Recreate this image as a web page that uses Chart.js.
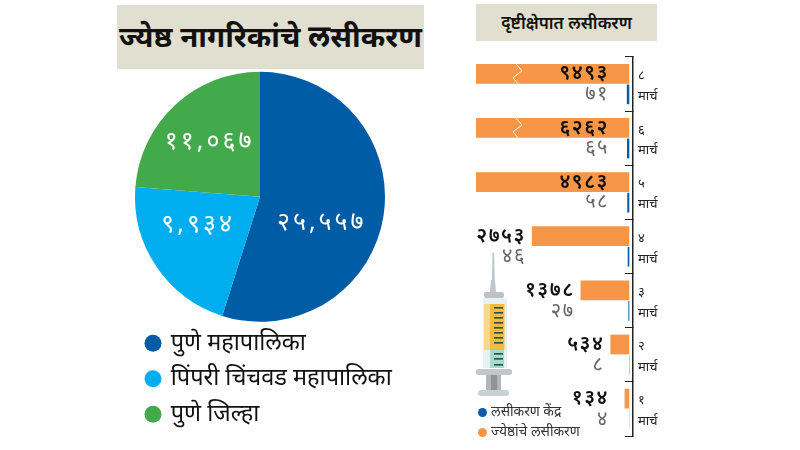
<!DOCTYPE html>
<html lang="mr"><head><meta charset="utf-8">
<script src="https://cdn.jsdelivr.net/npm/chart.js@4"></script>
<style>
html,body{margin:0;padding:0;background:#fff;width:800px;height:450px;overflow:hidden}
body{position:relative;font-family:"Noto Sans","Noto Sans Devanagari","Lohit Devanagari","DejaVu Sans",sans-serif;color:#111}
.abs{position:absolute}
#t1{left:117px;top:5px;width:307px;height:64px;background:#e1dfcf;font-size:29.5px;font-weight:700;line-height:62px;text-align:center;white-space:nowrap}
#t2{left:476px;top:4px;width:181px;height:37px;background:#e1dfcf;font-size:17px;font-weight:600;line-height:37px;text-align:center;white-space:nowrap}
.lg{left:478px;font-size:13.8px;color:#333;white-space:nowrap;line-height:14px}
.dot{display:inline-block;width:9px;height:9px;border-radius:50%;margin-right:4px;vertical-align:-1px}
</style></head><body>
<div class="abs" id="t1">ज्येष्ठ नागरिकांचे लसीकरण</div>
<div class="abs" id="t2">दृष्टीक्षेपात लसीकरण</div>
<div class="abs" style="left:128px;top:0;width:300px;height:436px"><canvas id="pie"></canvas></div>
<div class="abs" style="left:440px;top:0;width:260px;height:450px"><canvas id="bar"></canvas></div>
<svg class="abs" style="left:470px;top:245px" width="50" height="160" viewBox="470 245 50 160">
<path d="M492.5 253h1.6l.6 27h-2.8z" fill="#b9c6c9"/>
<path d="M491 280h4l1 12h-6z" fill="#c3c6c8"/>
<rect x="484" y="292" width="20" height="6" rx="2" fill="#bfc2c4"/>
<rect x="483" y="298" width="24" height="70" fill="#e6f1f2"/>
<rect x="484" y="304" width="21" height="46" fill="#f6d98e"/>
<rect x="490" y="304" width="14" height="46" fill="#f4bb3f"/>
<rect x="490" y="350" width="14" height="18" fill="#a9dcc8"/>
<g fill="#25504f"><rect x="494" y="307" width="9" height="1.6"/><rect x="494" y="312" width="9" height="1.6"/><rect x="494" y="317" width="9" height="1.6"/><rect x="494" y="322" width="9" height="1.6"/><rect x="494" y="327" width="9" height="1.6"/><rect x="494" y="332" width="9" height="1.6"/><rect x="494" y="337" width="9" height="1.6"/><rect x="494" y="342" width="9" height="1.6"/><rect x="494" y="353" width="9" height="1.6"/><rect x="494" y="358" width="9" height="1.6"/><rect x="494" y="364" width="9" height="1.6"/></g>
<rect x="476" y="369" width="36" height="6" rx="2" fill="#c4c7c9"/>
<rect x="486" y="375" width="15" height="17" fill="#b3b6b9"/>
<rect x="491" y="375" width="6" height="17" fill="#8f9498"/>
<rect x="478" y="390" width="31" height="6" rx="3" fill="#c9d2d2"/>
</svg>
<div class="abs lg" style="top:404px"><span class="dot" style="background:#0a5ca8"></span>लसीकरण केंद्र</div>
<div class="abs lg" style="top:424px"><span class="dot" style="background:#f79646"></span>ज्येष्ठांचे लसीकरण</div>
<script>
const fam='"Noto Sans","Noto Sans Devanagari","Lohit Devanagari","DejaVu Sans",sans-serif';
const regions=['पुणे महापालिका','पिंपरी चिंचवड महापालिका','पुणे जिल्हा'];
const regionValues=[25557,9934,11067];
const regionColors=['#005ca4','#00aeef','#43aa4b'];
const days=['८','६','५','४','३','२','१'];
const monthName='मार्च';
const seniors=[9493,6262,4983,2753,1378,534,134];
const centres=[71,65,58,46,27,8,4];
const brokenBars=['८','६'];
const deva=s=>String(s).replace(/\d/g,d=>'०१२३४५६७८९'[d]);
const group=n=>deva(n.toLocaleString('en-US'));

const pieLabels={id:'pieLabels',
 afterLayout(c){c.legend.right=c.width;},
 afterDatasetsDraw(c){
  const g=c.ctx,off=[[0,17],[-10,-7],[-8,-9]];
  g.save();g.fillStyle='#fff';g.font='400 25px '+fam;g.textAlign='center';g.textBaseline='middle';
  if('letterSpacing' in g)g.letterSpacing='3px';
  c.getDatasetMeta(0).data.forEach((a,i)=>{const p=a.tooltipPosition();g.fillText(group(regionValues[i]),p.x+off[i][0],p.y+off[i][1]);});
  g.restore();}};

new Chart(document.getElementById('pie'),{type:'pie',plugins:[pieLabels],
 data:{labels:regions,datasets:[{data:regionValues,backgroundColor:regionColors,borderWidth:0,radius:125}]},
 options:{responsive:true,maintainAspectRatio:false,animation:false,
  layout:{padding:{top:74,left:7,right:43,bottom:0}},
  plugins:{tooltip:{enabled:false},legend:{position:'bottom',align:'start',
   labels:{usePointStyle:true,pointStyle:'circle',boxHeight:12,boxWidth:12,padding:12,color:'#111',font:{family:fam,size:23.5}}}}}});

const barLabels={id:'barLabels',afterDatasetsDraw(c){
  const g=c.ctx,x=c.scales.x,limit=x.max,o=c.getDatasetMeta(0).data,b=c.getDatasetMeta(1).data,inside=c.chartArea.right-24;
  g.save();
  o.forEach((r,i)=>{
    if(brokenBars.includes(days[i])){
      const h=r.height,t=r.y-h/2,a=x.getPixelForValue(limit)+40;
      g.strokeStyle='#fff';g.lineWidth=1;g.beginPath();g.moveTo(a,t);g.lineTo(a+6,t+h*.35);g.lineTo(a-3,t+h*.7);g.lineTo(a+2,t+h);g.stroke();
    }
    const right=seniors[i]>limit?inside:Math.min(r.x-6,inside);
    g.textAlign='right';g.textBaseline='middle';
    if('letterSpacing' in g)g.letterSpacing='1.5px';
    g.fillStyle='#111';g.font='600 20px '+fam;g.fillText(deva(seniors[i]),right,r.y);
    g.fillStyle='#666';g.font='400 20px '+fam;g.fillText(deva(centres[i]),right,b[i].y);
  });
  g.restore();}};

new Chart(document.getElementById('bar'),{type:'bar',plugins:[barLabels],
 data:{labels:days.map(d=>[d,monthName]),datasets:[
  {label:'ज्येष्ठांचे लसीकरण',data:seniors,backgroundColor:'#f79646',borderWidth:0},
  {label:'लसीकरण केंद्र',data:centres,backgroundColor:'#0a5ca8',borderWidth:0}]},
 options:{indexAxis:'y',responsive:true,maintainAspectRatio:false,animation:false,
  layout:{padding:{top:57,bottom:14,left:36,right:0}},
  datasets:{bar:{categoryPercentage:.76,barPercentage:.96}},
  plugins:{legend:{display:false},tooltip:{enabled:false}},
  scales:{
   x:{reverse:true,min:-104,max:4332,display:false},
   y:{position:'right',afterFit(s){s.width=67;s.paddingTop=0;s.paddingBottom=0;},
    grid:{offset:true,drawOnChartArea:false,tickLength:-8,color:'#222',lineWidth:1},
    border:{color:'#222',width:1.5},
    ticks:{autoSkip:false,padding:13,labelOffset:2,color:'#222',font:{family:fam,size:13,lineHeight:1.6},maxRotation:0}}}}});
</script>
</body></html>
